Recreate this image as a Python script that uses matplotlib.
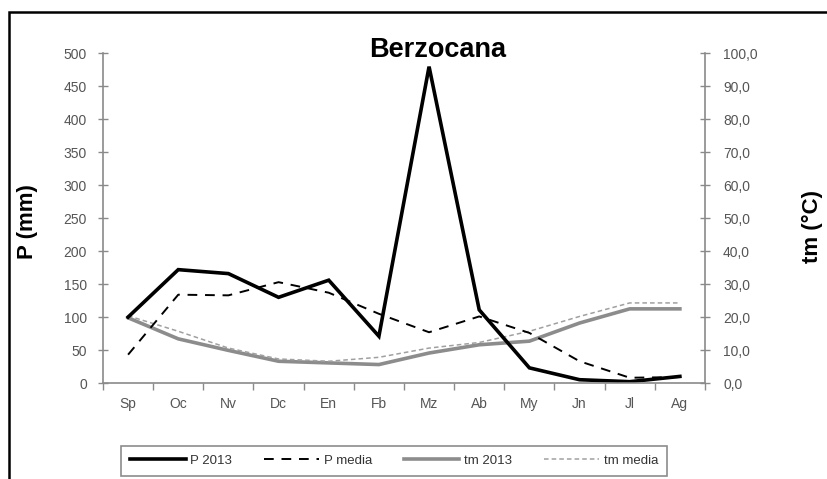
import numpy as np
import matplotlib
matplotlib.use("Agg")
import matplotlib.pyplot as plt
from matplotlib.patches import Rectangle
from matplotlib.ticker import FuncFormatter, FixedLocator

plt.rcParams['font.family'] = ['Liberation Sans', 'DejaVu Sans']

# data
meses = ["Sp", "Oc", "Nv", "Dc", "En", "Fb", "Mz", "Ab", "My", "Jn", "Jl", "Ag"]
p_2013 = [100, 172, 166, 130, 156, 71, 480, 111, 23, 5, 2, 10]
p_media = [43, 134, 133, 153, 137, 105, 77, 101, 76, 33, 8, 9]
tm_2013 = [19.8, 13.4, 9.9, 6.6, 6.1, 5.6, 9.1, 11.6, 12.7, 18.2, 22.5, 22.5]
tm_media = [20.4, 15.7, 10.6, 7.3, 6.6, 7.8, 10.6, 12.3, 15.7, 20.2, 24.3, 24.3]

axis_gray = "#8a8a8a"
label_gray = "#555555"

fig = plt.figure(figsize=(8.28, 4.79), dpi=100)
ax = fig.add_axes([0.1244, 0.2004, 0.727, 0.688])
ax2 = ax.twinx()

x = np.arange(len(meses))

# temperature lines on the secondary axis (drawn first, under precipitation)
l3, = ax2.plot(x, tm_2013, color="#8c8c8c", lw=2.6, solid_joinstyle="miter")
l4, = ax2.plot(x, tm_media, color="#a0a0a0", lw=1.1, dashes=(3, 2))
ax.set_zorder(ax2.get_zorder() + 1)
ax.patch.set_visible(False)

l1, = ax.plot(x, p_2013, color="black", lw=2.6, solid_joinstyle="miter")
l2, = ax.plot(x, p_media, color="black", lw=1.4, dashes=(5, 4))

ax.set_xlim(-0.5, len(meses) - 0.5)
ax.set_ylim(0, 500)
ax2.set_ylim(0, 100)

ax.set_yticks(np.arange(0, 501, 50))
ax2.set_yticks(np.arange(0, 101, 10))
ax2.yaxis.set_major_formatter(FuncFormatter(lambda v, p: f"{v:.1f}".replace(".", ",")))

ax.set_xticks(x)
ax.set_xticklabels(meses)
ax.xaxis.set_minor_locator(FixedLocator(np.arange(-0.5, len(meses), 1)))
ax.tick_params(axis="x", which="major", length=0, pad=10, labelsize=10, labelcolor=label_gray)
ax.tick_params(axis="x", which="minor", length=5, direction="out", color=axis_gray, width=1)
ax.tick_params(axis="y", length=7, direction="inout", color=axis_gray, width=1,
               labelsize=10, labelcolor=label_gray, pad=8)
ax2.tick_params(axis="y", length=7, direction="inout", color=axis_gray, width=1,
                labelsize=10, labelcolor=label_gray, pad=9.5)

for a in (ax, ax2):
    a.spines["top"].set_visible(False)
    for s in ("left", "right", "bottom"):
        a.spines[s].set_color(axis_gray)
        a.spines[s].set_linewidth(1.2)
ax.spines["right"].set_visible(False)
ax2.spines["left"].set_visible(False)
ax2.spines["bottom"].set_visible(False)

fig.text(0.033, 0.537, "P (mm)", rotation=90, ha="center", va="center",
         fontsize=16, fontweight="bold")
fig.text(0.981, 0.527, "tm (\u00b0C)", rotation=90, ha="center", va="center",
         fontsize=16, fontweight="bold")
fig.text(0.528, 0.896, "Berzocana", ha="center", va="center",
         fontsize=19.5, fontweight="bold")

leg = fig.legend([l1, l2, l3, l4], ["P 2013", "P media", "tm 2013", "tm media"],
                 loc="center", bbox_to_anchor=(0.476, 0.0376), ncol=4,
                 fontsize=9.5, handlelength=4.2, handletextpad=0.35,
                 columnspacing=2.4, frameon=True, fancybox=False,
                 borderpad=0.7, labelcolor="#333333")
leg.get_frame().set_edgecolor("#707070")
leg.get_frame().set_linewidth(1.2)

# outer chart frame (cropped on the right and bottom)
fig.patches.append(Rectangle((9 / 828, -0.1), 1.2, 1 - 12 / 479 + 0.1,
                             transform=fig.transFigure, fill=False,
                             edgecolor="black", lw=1.8))

fig.savefig("out.png", dpi=100)
